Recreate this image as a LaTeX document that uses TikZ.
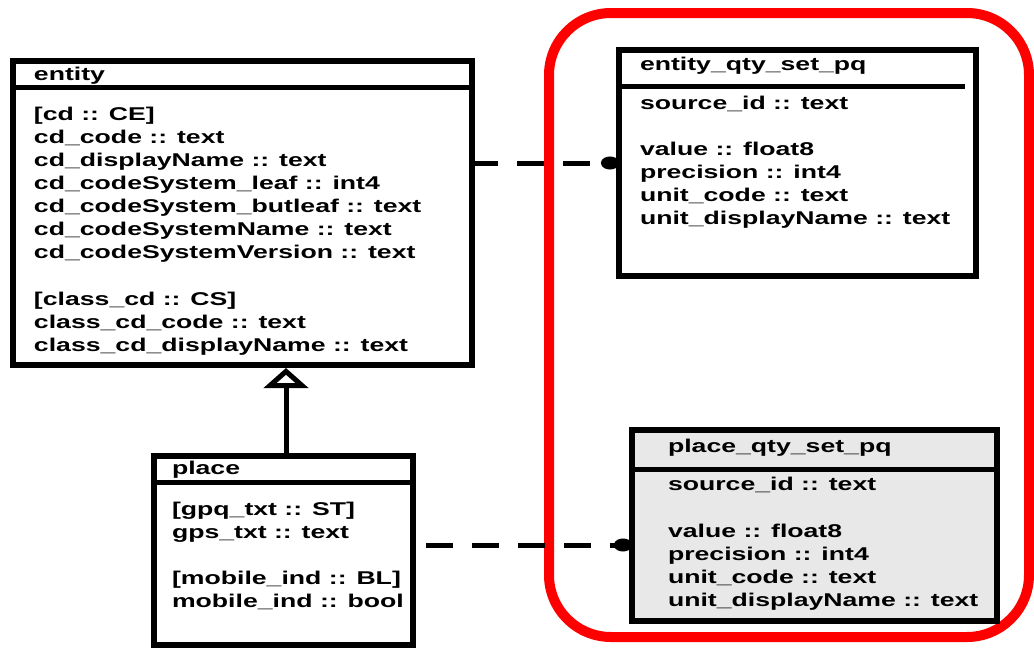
\documentclass[tikz,border=0pt]{standalone}
\usepackage{fontspec}
\newfontfamily\umlfont[FakeStretch=1.44]{Liberation Sans}
\usetikzlibrary{arrows.meta}
\begin{document}
\begin{tikzpicture}[x=1pt,y=-1pt,
  box/.style={draw=black, line width=6pt, inner sep=0pt, outer sep=0pt, anchor=north west},
  sepline/.style={draw=black, line width=5pt},
  row/.style={anchor=base west, inner sep=0pt, outer sep=0pt, font=\umlfont\bfseries\fontsize{18.5}{21}\selectfont},
  dashline/.style={draw=black, line width=5pt, dash pattern=on 27pt off 19pt, -{Circle[length=18pt,width=13pt]}},
  inherit/.style={draw=black, line width=5pt, -{Triangle[open,length=20pt,width=44pt]}},
  group/.style={draw=red, line width=10pt, rounded corners=62pt, inner sep=0pt, outer sep=0pt, anchor=north west}]
\useasboundingbox (0,0) rectangle (1034,648);
\fill[white] (0,0) rectangle (1034,648);
% red group
\node[group, minimum width=480pt, minimum height=624pt] (grp) at (549,13) {};
% entity
\node[box, minimum width=459pt, minimum height=304pt] (entity) at (13,61) {};
\coordinate (esl) at (13,87); \coordinate (esr) at (472,87);
\draw[sepline] (esl) -- (esr);
\node[row] (etitle) at (34,80) {entity};
\foreach \t [count=\i from 0] in {[cd :: CE],cd\_code :: text,cd\_displayName :: text,cd\_codeSystem\_leaf :: int4,cd\_codeSystem\_butleaf :: text,cd\_codeSystemName :: text,cd\_codeSystemVersion :: text}
  \node[row] (ea\i) at (34,{120+23*\i}) {\t};
\foreach \t [count=\i from 0] in {[class\_cd :: CS],class\_cd\_code :: text,class\_cd\_displayName :: text}
  \node[row] (eb\i) at (34,{305+23*\i}) {\t};
% entity_qty_set_pq
\node[box, minimum width=357pt, minimum height=226pt] (eq) at (619,50) {};
\coordinate (qsl) at (619,86); \coordinate (qsr) at (965,86);
\draw[sepline] (qsl) -- (qsr);
\node[row] (eqtitle) at (640,70) {entity\_qty\_set\_pq};
\node[row] (eqs) at (640,109) {source\_id :: text};
\foreach \t [count=\i from 0] in {value :: float8,precision :: int4,unit\_code :: text,unit\_displayName :: text}
  \node[row] (eqv\i) at (640,{155+23*\i}) {\t};
% place
\node[box, minimum width=259pt, minimum height=189pt] (place) at (154,456) {};
\coordinate (psl) at (154,482); \coordinate (psr) at (413,482);
\draw[sepline] (psl) -- (psr);
\node[row] (ptitle) at (172,474) {place};
\foreach \t [count=\i from 0] in {[gpq\_txt :: ST],gps\_txt :: text}
  \node[row] (pa\i) at (172,{515+23*\i}) {\t};
\foreach \t [count=\i from 0] in {[mobile\_ind :: BL],mobile\_ind :: bool}
  \node[row] (pb\i) at (172,{584+23*\i}) {\t};
% place_qty_set_pq
\node[box, fill=black!9, minimum width=365pt, minimum height=191pt] (pq) at (632,430) {};
\coordinate (rsl) at (632,469); \coordinate (rsr) at (997,469);
\draw[sepline] (rsl) -- (rsr);
\node[row] (pqtitle) at (668,452) {place\_qty\_set\_pq};
\node[row] (pqs) at (668,490) {source\_id :: text};
\foreach \t [count=\i from 0] in {value :: float8,precision :: int4,unit\_code :: text,unit\_displayName :: text}
  \node[row] (pqv\i) at (668,{537+23*\i}) {\t};
% connectors
\coordinate (c1) at (619,163);
\coordinate (c2) at (632,545);
\coordinate (c3) at (286,400);
\draw[dashline, dash phase=1pt] (entity.east |- c1) -- (eq.west |- c1);
\draw[dashline, dash phase=33pt] (place.east |- c2) -- (pq.west |- c2);
\draw[inherit] (place.north -| c3) -- ([yshift=-3pt]entity.south -| c3);
\end{tikzpicture}
\end{document}
